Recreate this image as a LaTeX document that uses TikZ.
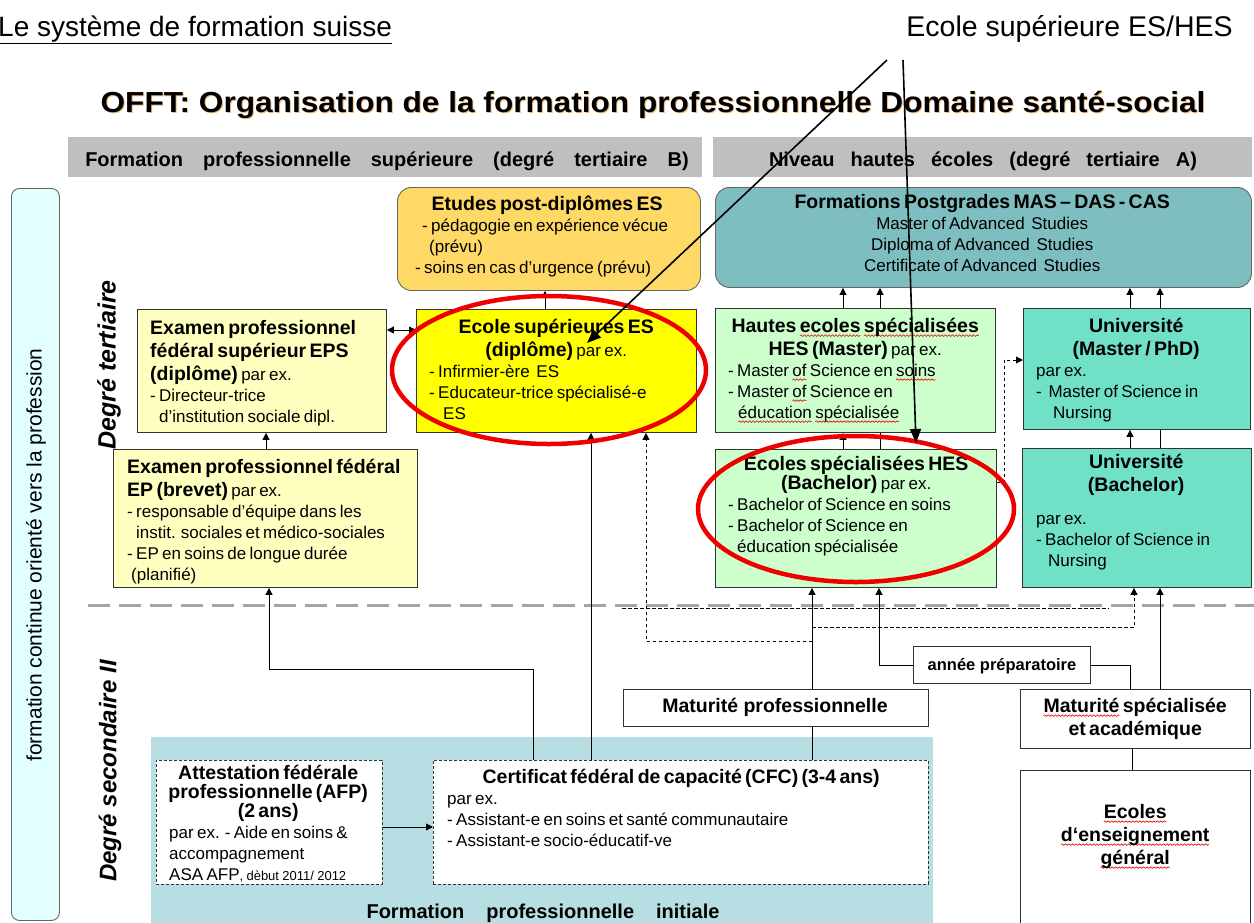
\documentclass[tikz,border=0pt]{standalone}
\usepackage{fontspec}
\setmainfont{Liberation Sans}
\usepackage{graphicx}
\usetikzlibrary{arrows.meta, decorations.pathmorphing}

% colours of the boxes
\definecolor{hdrgray}{RGB}{191,191,191}
\definecolor{contcyan}{RGB}{226,255,255}
\definecolor{postgold}{RGB}{255,217,102}
\definecolor{pgteal}{RGB}{126,190,192}
\definecolor{epsyel}{RGB}{255,255,192}
\definecolor{esyel}{RGB}{255,255,0}
\definecolor{hesgreen}{RGB}{204,255,204}
\definecolor{unitq}{RGB}{112,225,199}
\definecolor{initteal}{RGB}{183,222,226}
\definecolor{sepgray}{RGB}{165,165,165}
\definecolor{ringred}{RGB}{238,0,0}
\definecolor{shadeorange}{RGB}{240,185,120}

\newcommand\bodyfs{\fontsize{17}{21}\selectfont\mdseries}
\newcommand\headfs{\fontsize{19.5}{23}\selectfont\bfseries}
\newcommand\tightfs{\fontsize{19.5}{19}\selectfont\bfseries}
% red wavy underline of the spell checker
\newsavebox\wavebox
\newcommand\redwave[1]{\leavevmode\sbox\wavebox{#1}\rlap{\tikz[overlay]\draw[ringred, line width=0.6pt, decorate,
  decoration={snake, amplitude=0.8pt, segment length=3.5pt}] (0pt,-3.6pt) -- (\wd\wavebox,-3.6pt);}\usebox\wavebox}

\begin{document}
\begin{tikzpicture}[x=1pt, y=-1pt,
  box/.style={draw=black!80, line width=0.9pt, anchor=north west, inner sep=0pt},
  rbox/.style={box, draw=black!60, rounded corners=14pt},
  dbox/.style={box, fill=white, dash pattern=on 3pt off 2pt},
  txt/.style={anchor=base west, inner sep=0pt, align=left},
  arr/.style={-{Triangle[length=7pt,width=7pt]}, line width=0.8pt},
  darr/.style={arr, dash pattern=on 3.5pt off 2.5pt},
  line/.style={line width=0.8pt},
  sepline/.style={sepgray, line width=3pt, dash pattern=on 22pt off 9pt},
  ring/.style={ringred, line width=4.5pt},
  callarr/.style={-{Triangle[length=14pt,width=11pt]}, line width=1.6pt}]

  % Frame of the page
  \useasboundingbox (0,0) rectangle (1254,922);
  \clip (0,0) rectangle (1254,922);

  % Titles
  \node[anchor=base west, inner sep=0pt] (ttl) at (-2,36)
    {\fontsize{28}{30}\selectfont\underline{Le système de formation suisse}};
  \node[anchor=base east, inner sep=0pt] (eslabel) at (1233,36)
    {\fontsize{28.5}{30}\selectfont Ecole supérieure ES/HES};
  \node[anchor=base, inner sep=0pt, text=shadeorange] (offt-sh) at (654,113)
    {\scalebox{1.09}[1]{\fontsize{29}{31}\selectfont\bfseries OFFT: Organisation de la formation professionnelle Domaine santé-social}};
  \node[anchor=base, inner sep=0pt] (offt) at (653,112)
    {\scalebox{1.09}[1]{\fontsize{29}{31}\selectfont\bfseries OFFT: Organisation de la formation professionnelle Domaine santé-social}};

  % Grey header bars
  \node[box, draw=none, fill=hdrgray, minimum width=634pt, minimum height=40pt] (hdrB) at (68,137) {};
  \node[box, draw=none, fill=hdrgray, minimum width=539pt, minimum height=40pt] (hdrA) at (713,137) {};
  \node[anchor=base, inner sep=0pt] (hdrB-t) at (387,166)
    {\fontsize{20}{22}\selectfont\bfseries Formation\quad professionnelle\quad supérieure\quad (degré\quad tertiaire\quad B)};
  \node[anchor=base, inner sep=0pt] (hdrA-t) at (983,166)
    {\fontsize{20}{22}\selectfont\bfseries Niveau\hspace{16pt}hautes\hspace{16pt}écoles\hspace{16pt}(degré\hspace{16pt}tertiaire\hspace{16pt}A)};

  % Left band and level labels
  \node[rbox, fill=contcyan, rounded corners=8pt, minimum width=48pt, minimum height=732pt] (cont) at (11,188) {};
  \node[rotate=90, inner sep=0pt] (cont-t) at (36,555)
    {\fontsize{21}{23}\selectfont formation continue orienté vers la profession};
  \node[rotate=90, inner sep=0pt] (tert) at (109,365)
    {\fontsize{25}{27}\selectfont\bfseries\itshape Degré tertiaire};
  \node[rotate=90, inner sep=0pt] (sec) at (110,771)
    {\fontsize{24}{26}\selectfont\bfseries\itshape Degré secondaire II};

  % Background of the initial training
  \fill[initteal] (151,737) rectangle (933,930);
  \node[anchor=base, inner sep=0pt] (init-t) at (543,918)
    {\fontsize{20}{22}\selectfont\bfseries Formation\hspace{22pt}professionnelle\hspace{22pt}initiale};

  % Dashed separation between the two levels
  \draw[sepline] (88,605) -- (1254,605);

  % Boxes of the tertiary level
  \node[rbox, fill=postgold, minimum width=303pt, minimum height=103pt] (post) at (397,187) {};
  \node[rbox, fill=pgteal, minimum width=536pt, minimum height=100pt] (pg) at (715,187) {};
  \node[box, fill=epsyel, minimum width=249pt, minimum height=123pt] (eps) at (137,309) {};
  \node[box, fill=esyel, minimum width=280pt, minimum height=123pt] (es) at (416,309) {};
  \node[box, fill=hesgreen, minimum width=280pt, minimum height=124pt] (hesm) at (715,308) {};
  \node[box, fill=unitq, minimum width=227pt, minimum height=121pt] (unim) at (1023,308) {};
  \node[box, fill=epsyel, minimum width=304pt, minimum height=138pt] (ep) at (113,449) {};
  \node[box, fill=hesgreen, minimum width=281pt, minimum height=138pt] (hesb) at (715,449) {};
  \node[box, fill=unitq, minimum width=229pt, minimum height=139pt] (unib) at (1022,448) {};

  % Boxes of the secondary level
  \node[box, fill=white, minimum width=177pt, minimum height=37pt] (prep) at (913,646) {};
  \node[box, fill=white, minimum width=305pt, minimum height=37pt] (matpro) at (623,689) {};
  \node[box, fill=white, minimum width=230pt, minimum height=59pt] (matspec) at (1020,689) {};
  \node[box, fill=white, minimum width=230pt, minimum height=170pt] (eeg) at (1020,770) {};
  \node[dbox, minimum width=226pt, minimum height=124pt] (afp) at (156,760) {};
  \node[dbox, minimum width=495pt, minimum height=124pt] (cfc) at (433,760) {};

  % Texts of the boxes
  \node[txt, text width=274pt] (post-t) at (410,210) {%
    {\centering\headfs Etudes post-diplômes ES\par}%
    \bodyfs \hspace*{12pt}- pédagogie en expérience vécue\\
    \hspace*{19pt}(prévu)\\
    \hspace*{5pt}- soins en cas d'urgence (prévu)\par};
  \node[txt, text width=508pt] (pg-t) at (728,208) {%
    {\centering\headfs Formations Postgrades MAS – DAS - CAS\par
    \bodyfs Master of Advanced\ \ Studies\\
    Diploma of Advanced\ \ Studies\\
    Certificate of Advanced\ \ Studies\par}};
  \node[txt, text width=232pt] (eps-t) at (150,334) {%
    \headfs Examen professionnel\\
    fédéral supérieur EPS\\
    (diplôme) {\bodyfs par ex.}\par
    \bodyfs - Directeur-trice\\
    \hspace*{9pt}d'institution sociale dipl.\par};
  \node[txt, text width=254pt] (es-t) at (429,333) {%
    {\centering\headfs Ecole supérieures ES\\
    (diplôme) {\bodyfs par ex.}\par}%
    \bodyfs - Infirmier-ère\ \ ES\\
    - Educateur-trice spécialisé-e\\
    \hspace*{14pt}ES\par};
  \node[txt, text width=254pt] (hesm-t) at (728,332) {%
    {\centering\headfs Hautes \redwave{ecoles} \redwave{spécialisées}\\
    HES (Master) {\bodyfs par ex.}\par}%
    \bodyfs - Master \redwave{of} Science en \redwave{soins}\\
    - Master \redwave{of} Science en\\
    \hspace*{10pt}\redwave{éducation} \redwave{spécialisée}\par};
  \node[txt, text width=200pt] (unim-t) at (1036,332) {%
    {\centering\headfs Université\\
    (Master / PhD)\par}%
    \bodyfs par ex.\\
    -\ \ Master of Science in\\
    \hspace*{17pt}Nursing\par};
  \node[txt, text width=285pt] (ep-t) at (127,473) {%
    \headfs Examen professionnel fédéral\\
    EP (brevet) {\bodyfs par ex.}\par
    \bodyfs - responsable d'équipe dans les\\
    \hspace*{9pt}instit. sociales et médico-sociales\\
    - EP en soins de longue durée\\
    \hspace*{4pt}(planifié)\par};
  \node[txt, text width=256pt] (hesb-t) at (728,470) {%
    {\centering\tightfs Ecoles spécialisées HES\\
    (Bachelor) {\bodyfs par ex.}\par}%
    \bodyfs - Bachelor of Science en soins\\
    - Bachelor of Science en\\
    \hspace*{9pt}éducation spécialisée\par};
  \node[txt, text width=200pt] (unib-t) at (1036,468) {%
    {\centering\headfs Université\\
    (Bachelor)\par}%
    \vspace*{12pt}%
    \bodyfs par ex.\\
    - Bachelor of Science in\\
    \hspace*{12pt}Nursing\par};
  \node[txt, anchor=base] (prep-t) at (1002,670)
    {\fontsize{16.5}{18}\selectfont\bfseries année préparatoire};
  \node[txt, anchor=base] (matpro-t) at (775,712) {\headfs Maturité professionnelle};
  \node[txt, text width=230pt] (matspec-t) at (1020,712) {%
    {\centering\headfs \redwave{Maturité} spécialisée\\
    et académique\par}};
  \node[txt, text width=230pt] (eeg-t) at (1020,818) {%
    {\centering\headfs \redwave{Ecoles}\\
    \redwave{d‘enseignement}\\
    \redwave{général}\par}};
  \node[txt, text width=210pt] (afp-t) at (163,779) {%
    {\centering\tightfs Attestation fédérale\\
    professionnelle (AFP)\\
    (2 ans)\par}%
    \bodyfs \hspace*{6pt}par ex. - Aide en soins \&\\
    \hspace*{6pt}accompagnement\\
    \hspace*{6pt}ASA AFP{\fontsize{13}{15}\selectfont, dèbut 2011/ 2012}\par};
  \node[txt, text width=468pt] (cfc-t) at (447,783) {%
    {\centering\headfs Certificat fédéral de capacité (CFC) (3-4 ans)\par}%
    \bodyfs par ex.\\
    - Assistant-e en soins et santé communautaire\\
    - Assistant-e socio-éducatif-ve\par};

  % Connectors of the tertiary level
  \draw[line, {Triangle[length=7pt,width=7pt]}-{Triangle[length=7pt,width=7pt]}] (eps.east |- 0,330) -- (es.west |- 0,330);
  \draw[arr] (545,0 |- es.north) -- (545,0 |- post.south);
  \draw[arr] (266,0 |- ep.north) -- (266,0 |- eps.south);
  \draw[arr] (843,0 |- hesm.north) -- (843,0 |- pg.south);
  \draw[arr] (880,0 |- hesm.north) -- (880,0 |- pg.south);
  \draw[arr] (1130,0 |- unim.north) -- (1130,0 |- pg.south);
  \draw[arr] (1160,0 |- unim.north) -- (1160,0 |- pg.south);
  \draw[arr] (843,0 |- hesb.north) -- (843,0 |- hesm.south);
  \draw[line] (880,0 |- hesb.north) -- (880,0 |- hesm.south);
  \draw[arr] (1130,0 |- unib.north) -- (1130,0 |- unim.south);
  \draw[line] (1160,0 |- unib.north) -- (1160,0 |- unim.south);
  \draw[darr] (hesb.east |- 0,482) -- (1004,482) |- (unim.west |- 0,360);

  % Connectors from the secondary level
  \draw[arr] (533,0 |- cfc.north) |- (269,669) -- (269,0 |- ep.south);
  \draw[arr] (591,0 |- cfc.north) -- (591,0 |- es.south);
  \draw[arr] (afp.east |- 0,827) -- (cfc.west |- 0,827);
  \draw[line] (812,0 |- cfc.north) -- (812,0 |- matpro.south);
  \draw[arr] (812,0 |- matpro.north) -- (812,0 |- hesb.south);
  \draw[darr] (812,641) -| (646,0 |- es.south);
  \draw[darr] (812,627) -| (1134,0 |- unib.south);
  \draw[dash pattern=on 3.5pt off 2.5pt, line width=0.8pt] (622,608) -- (1109,608);
  \draw[arr] (prep.west) -| (879,0 |- hesb.south);
  \draw[line] (prep.east) -| (1130,0 |- matspec.north);
  \draw[arr] (1160,0 |- matspec.north) -- (1160,0 |- unib.south);
  \draw[line] (1132,0 |- matspec.south) -- (1132,0 |- eeg.north);

  % Red rings
  \draw[ring] (549,370) ellipse [x radius=157pt, y radius=74pt];
  \draw[ring] (856,509) ellipse [x radius=158pt, y radius=73pt];

  % Call-out arrows
  \coordinate (call1) at (887,60);
  \coordinate (call2) at (903,60);
  \coordinate (tip1) at (587,343);
  \coordinate (tip2) at (916,443);
  \draw[callarr] (call1) -- (tip1);
  \draw[callarr] (call2) -- (tip2);
\end{tikzpicture}
\end{document}
